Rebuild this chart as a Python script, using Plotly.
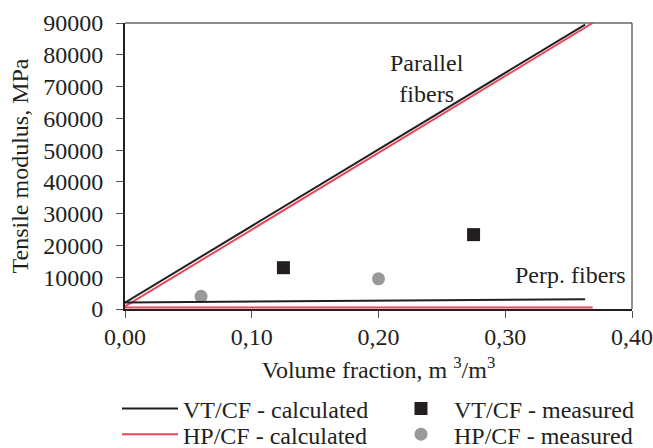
import plotly.graph_objects as go

# Data
vt_par_x = [0.0, 0.363]
vt_par_y = [2000, 89500]
hp_par_x = [0.0, 0.369]
hp_par_y = [800, 90000]
vt_perp_x = [0.0, 0.363]
vt_perp_y = [2050, 3080]
hp_perp_x = [0.0, 0.369]
hp_perp_y = [500, 500]
vt_meas_x = [0.125, 0.275]
vt_meas_y = [13000, 23400]
hp_meas_x = [0.06, 0.20]
hp_meas_y = [4000, 9500]
x_ticks = [0.0, 0.1, 0.2, 0.3, 0.4]
y_ticks = [0, 10000, 20000, 30000, 40000, 50000, 60000, 70000, 80000, 90000]

BLACK = "#231f20"
RED = "#e8475a"
GRAY = "#999999"
FONT = "Liberation Serif"
FS = 24

fig = go.Figure()
fig.add_trace(go.Scatter(x=vt_par_x, y=vt_par_y, mode="lines", name="VT/CF - calculated",
                         line=dict(color=BLACK, width=2), legendgroup="vt", legend="legend"))
fig.add_trace(go.Scatter(x=vt_meas_x, y=vt_meas_y, mode="markers", name="VT/CF - measured",
                         marker=dict(symbol="square", size=13, color=BLACK), legend="legend"))
fig.add_trace(go.Scatter(x=hp_par_x, y=hp_par_y, mode="lines", name="HP/CF - calculated",
                         line=dict(color=RED, width=2), legendgroup="hp", legend="legend2"))
fig.add_trace(go.Scatter(x=hp_meas_x, y=hp_meas_y, mode="markers", name="HP/CF - measured",
                         marker=dict(symbol="circle", size=13, color=GRAY), legend="legend2"))
fig.add_trace(go.Scatter(x=vt_perp_x, y=vt_perp_y, mode="lines", showlegend=False,
                         line=dict(color=BLACK, width=2), legendgroup="vt"))
fig.add_trace(go.Scatter(x=hp_perp_x, y=hp_perp_y, mode="lines", showlegend=False,
                         line=dict(color=RED, width=2), legendgroup="hp"))

fig.add_annotation(x=0.238, y=72500, text="Parallel<br>fibers", showarrow=False,
                   font=dict(family=FONT, size=FS, color=BLACK), align="center")
fig.add_annotation(x=0.397, y=10800, text="Perp. fibers", showarrow=False,
                   xanchor="right", font=dict(family=FONT, size=FS, color=BLACK))

# top (gray) and right (black) borders
fig.add_shape(type="line", xref="paper", yref="paper", x0=0, x1=1, y0=1, y1=1,
              line=dict(color="#666666", width=1.5))
fig.add_shape(type="line", xref="paper", yref="paper", x0=1, x1=1, y0=0, y1=1,
              line=dict(color=BLACK, width=1))

legend_common = dict(orientation="h", x=-0.0158, xanchor="left", yanchor="middle",
                     entrywidth=200, itemwidth=56, traceorder="normal",
                     font=dict(family=FONT, size=FS, color=BLACK), bgcolor="rgba(0,0,0,0)")

fig.update_layout(
    width=653, height=448,
    margin=dict(l=125, r=21, t=23, b=139, autoexpand=False),
    plot_bgcolor="white", paper_bgcolor="white",
    separators=",.",
    font=dict(family=FONT, size=FS, color=BLACK),
    showlegend=True,
    legend=dict(y=-0.349, **legend_common),
    legend2=dict(y=-0.439, **legend_common),
    xaxis=dict(range=[0, 0.40], tickvals=x_ticks, tickformat=".2f", automargin=False,
               showgrid=False, zeroline=False, showline=True, linecolor=BLACK, linewidth=1.5,
               ticks="outside", ticklen=7, tickcolor="#555555", tickwidth=1,
               ticklabelstandoff=-2,
               title=dict(text="Volume fraction, m <sup>3</sup>/m<sup>3</sup>", standoff=13,
                          font=dict(family=FONT, size=FS, color=BLACK)),
               tickfont=dict(family=FONT, size=FS, color=BLACK)),
    yaxis=dict(range=[0, 90000], tickvals=y_ticks, tickformat="d", automargin=False,
               showgrid=False, zeroline=False, showline=True, linecolor=BLACK, linewidth=2,
               ticks="outside", ticklen=7, tickcolor="#555555", tickwidth=1,
               ticklabelstandoff=8,
               title=dict(text="Tensile modulus, MPa", standoff=8,
                          font=dict(family=FONT, size=FS, color=BLACK)),
               tickfont=dict(family=FONT, size=FS, color=BLACK)),
)

# remove the default page margin so the 653x448 figure fills the window exactly
fig.write_html("out.html", config={"displayModeBar": False},
               post_script="document.body.style.margin='0';document.body.style.overflow='hidden';")
